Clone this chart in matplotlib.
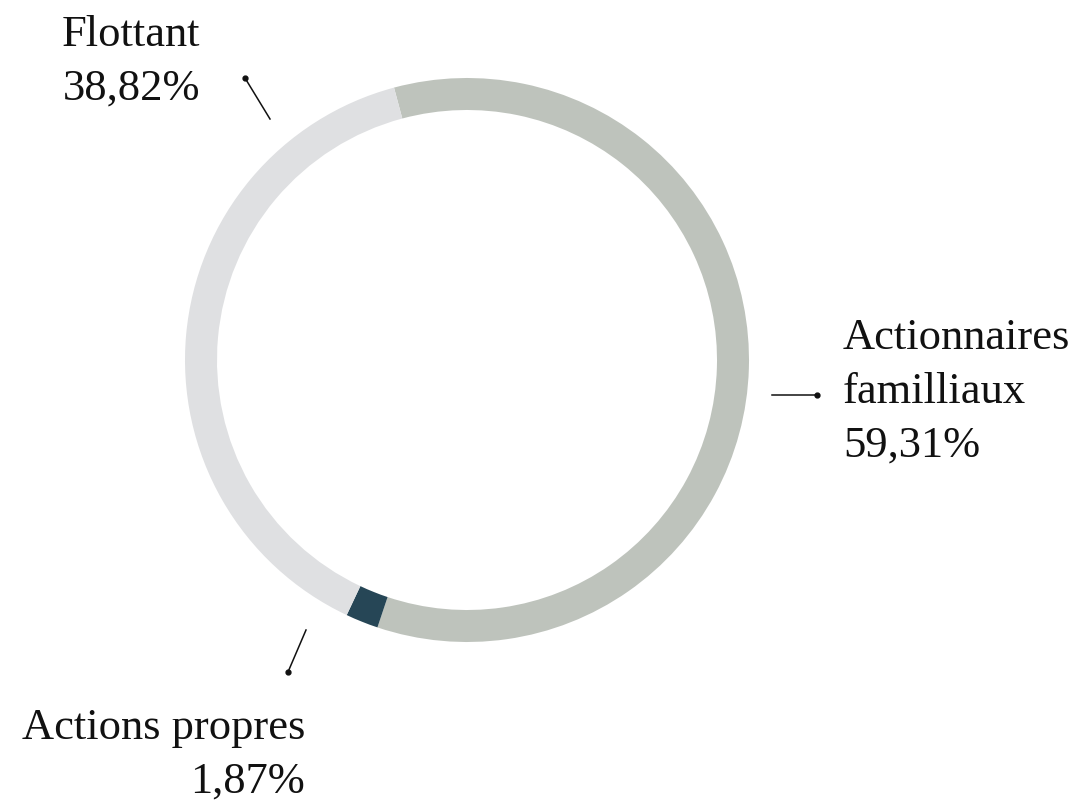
import matplotlib.pyplot as plt

# données
labels = ["Actionnaires\nfamilliaux", "Actions propres", "Flottant"]
valeurs = [59.31, 1.87, 38.82]
pourcentages = ["59,31%", "1,87%", "38,82%"]
couleurs = ["#bec3bc", "#264656", "#dfe0e2"]

W, H = 1080, 805
fig = plt.figure(figsize=(W / 100, H / 100), dpi=100)
ax = fig.add_axes([0, 0, 1, 1])

# anneau (coordonnées en pixels, y vers le haut)
cx, cy, r = 467, H - 360, 282
ax.pie(valeurs, colors=couleurs, startangle=105, counterclock=False,
       center=(cx, cy), radius=r,
       wedgeprops=dict(width=32, linewidth=0))

ax.set_xlim(0, W)
ax.set_ylim(0, H)
ax.set_aspect("auto")
ax.axis("off")

police = dict(family="Liberation Serif", fontsize=32, color="#111111",
              linespacing=1.45)

# Flottant
ax.plot([245, 270], [H - 78, H - 119], color="#111111", lw=1.1)
ax.plot([245], [H - 78], "o", color="#111111", ms=3.5)
ax.text(200, H - 62, "Flottant\n" + pourcentages[2], ha="right", va="center",
        **police)

# Actionnaires familliaux
ax.plot([772, 817], [H - 395, H - 395], color="#111111", lw=1.1)
ax.plot([817], [H - 395], "o", color="#111111", ms=3.5)
ax.text(843, H - 392, labels[0] + "\n" + pourcentages[0], ha="left", va="center",
        **police)

# Actions propres
ax.plot([306, 288], [H - 630, H - 672], color="#111111", lw=1.1)
ax.plot([288], [H - 672], "o", color="#111111", ms=3.5)
ax.text(305, H - 755, labels[1] + "\n" + pourcentages[1], ha="right", va="center",
        multialignment="right", **police)

fig.savefig("out.png", dpi=100, facecolor="white")
